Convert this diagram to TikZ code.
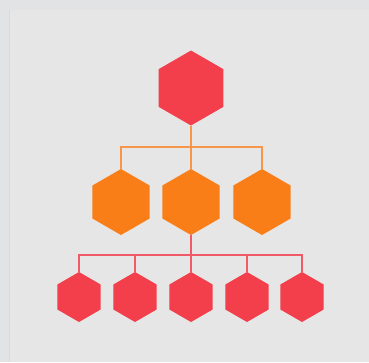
\documentclass[tikz,border=0pt]{standalone}
\usetikzlibrary{shapes.geometric}
\definecolor{outerbg}{HTML}{E2E3E5}
\definecolor{panelbg}{HTML}{E6E6E6}
\definecolor{paneledge}{HTML}{D9DADB}
\definecolor{hexred}{HTML}{F33E4B}
\definecolor{hexorange}{HTML}{F97E17}
\definecolor{lineorange}{HTML}{F7954A}
\definecolor{linered}{HTML}{F05A66}
\tikzset{
  hexa/.style={regular polygon, regular polygon sides=6, regular polygon rotate=30,
    inner sep=0pt, outer sep=0pt, draw=none},
  bighex/.style={hexa, fill=hexred, minimum size=75pt},
  midhex/.style={hexa, fill=hexorange, minimum size=66pt},
  smallhex/.style={hexa, fill=hexred, minimum size=50pt},
  orangelink/.style={draw=lineorange, line width=2pt},
  redlink/.style={draw=linered, line width=2pt}
}
\begin{document}
\begin{tikzpicture}[x=1pt, y=-1pt]
\useasboundingbox (0,0) rectangle (369,362);
\fill[outerbg] (0,0) rectangle (369,362);
\fill[panelbg] (9,10) rectangle (369,362);
\draw[paneledge, line width=1.5pt] (9.5,10) -- (9.5,362);
% connectors
\coordinate (bus1) at (191,147);
\coordinate (bus2) at (191,255);
\node[bighex] (top) at (191,88) {};
\node[midhex] (m1) at (121,202) {};
\node[midhex] (m2) at (191,202) {};
\node[midhex] (m3) at (262,202) {};
\node[smallhex] (b1) at (79,297) {};
\node[smallhex] (b2) at (135,297) {};
\node[smallhex] (b3) at (191,297) {};
\node[smallhex] (b4) at (247,297) {};
\node[smallhex] (b5) at (302,297) {};
\draw[orangelink] (top.south) -- (bus1);
\draw[orangelink] (m1.north) |- (bus1);
\draw[orangelink] (m3.north) |- (bus1);
\draw[orangelink] (m2.north) -- (bus1);
\draw[redlink] (m2.south) -- (bus2);
\draw[redlink] (b1.north) |- (bus2);
\draw[redlink] (b5.north) |- (bus2);
\draw[redlink] (b2.north) |- (bus2);
\draw[redlink] (b4.north) |- (bus2);
\draw[redlink] (b3.north) -- (bus2);
\end{tikzpicture}
\end{document}
